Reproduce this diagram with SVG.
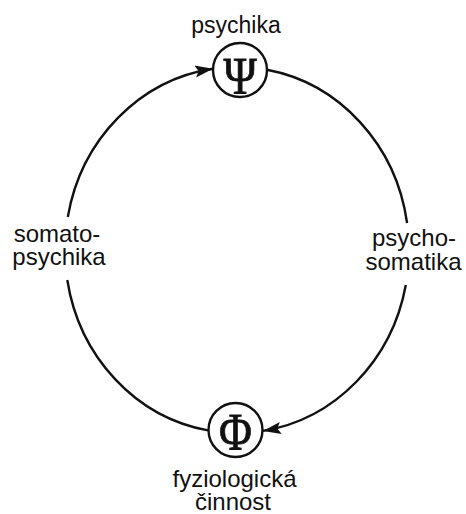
<svg xmlns="http://www.w3.org/2000/svg" width="466" height="514" viewBox="0 0 466 514">
<style>
.lbl{font-family:"Liberation Sans",Arial,sans-serif;font-size:24px;fill:#111;text-anchor:middle}
.sym{font-family:"Liberation Serif","Times New Roman",serif;font-size:53px;fill:#111;stroke:#111;stroke-width:0.8;text-anchor:middle}
.node{fill:#fff;stroke:#111;stroke-width:2.4}
.arc{fill:none;stroke:#111;stroke-width:2.4}
</style>
<defs>
<marker id="ah" markerUnits="userSpaceOnUse" markerWidth="19" markerHeight="13" refX="18" refY="6" orient="auto" viewBox="0 0 19 13">
<path d="M0,0 L18,6 L0,12 L3.5,6 z" fill="#111"/>
</marker>
</defs>
<rect width="466" height="514" fill="#fff"/>
<g id="connectors">
<path class="arc" d="M 67.8 217 A 172 183 0 0 1 213 68.8" marker-end="url(#ah)"/>
<path class="arc" d="M 267 69.8 A 172 183 0 0 1 407.1 223"/>
<path class="arc" d="M 405.8 285 A 172 183 0 0 1 263 430.9" marker-end="url(#ah)"/>
<path class="arc" d="M 67.3 280 A 172 183 0 0 0 208 430.4"/>
</g>
<g id="psychika">
<circle class="node" cx="240" cy="70" r="27"/>
<text class="sym" transform="translate(240,94) scale(0.85,1)">Ψ</text>
<text class="lbl" x="236" y="33" style="font-size:23px">psychika</text>
</g>
<g id="fyziologicka">
<circle class="node" cx="235.5" cy="430" r="27"/>
<text class="sym" transform="translate(235.5,450) scale(0.85,1)">Φ</text>
<text class="lbl" x="234.5" y="487">fyziologická</text>
<text class="lbl" x="233" y="510">činnost</text>
</g>
<g id="somatopsychika">
<text class="lbl" x="57" y="242">somato-</text>
<text class="lbl" x="59" y="265">psychika</text>
</g>
<g id="psychosomatika">
<text class="lbl" x="414" y="246">psycho-</text>
<text class="lbl" x="413.5" y="270">somatika</text>
</g>
</svg>
